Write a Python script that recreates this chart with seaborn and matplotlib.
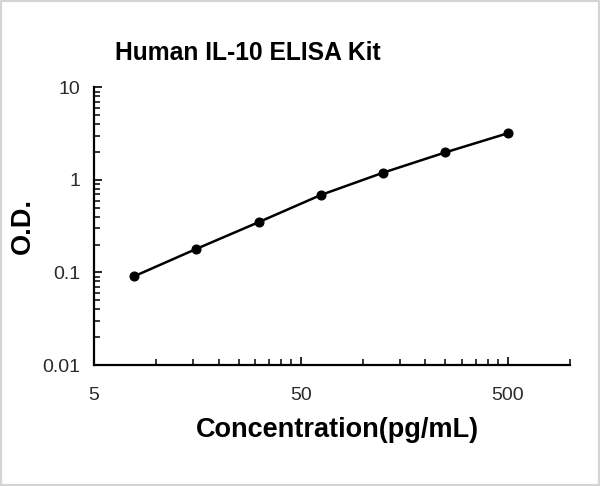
import matplotlib
matplotlib.use("Agg")
import matplotlib.pyplot as plt
import matplotlib.ticker as mticker
from matplotlib.patches import Rectangle
import seaborn as sns
import pandas as pd

# Data
concentration = [7.8125, 15.625, 31.25, 62.5, 125, 250, 500]
od = [0.091, 0.180, 0.350, 0.689, 1.20, 1.99, 3.20]
x_major = [5, 50, 500]
x_major_labels = ["5", "50", "500"]
y_major = [0.01, 0.1, 1, 10]
y_major_labels = ["0.01", "0.1", "1", "10"]

title = "Human IL-10 ELISA Kit"
xlabel = "Concentration(pg/mL)"
ylabel = "O.D."

sns.set_theme(style="white")
plt.rcParams['font.family'] = ['Liberation Sans', 'DejaVu Sans']

df = pd.DataFrame({"conc": concentration, "od": od})

fig = plt.figure(figsize=(6.0, 4.86), dpi=100)
ax = fig.add_axes([94/600, (486-365)/486, (570-94)/600, (365-87.5)/486])

sns.lineplot(data=df, x="conc", y="od", ax=ax, color="black", linewidth=1.8,
             marker="o", markersize=6.5, markeredgecolor="black",
             markerfacecolor="black")

ax.set_xscale("log")
ax.set_yscale("log")
ax.set_xlim(5, 1000)
ax.set_ylim(0.01, 10)

ax.xaxis.set_major_locator(mticker.FixedLocator(x_major))
ax.xaxis.set_major_formatter(mticker.FixedFormatter(x_major_labels))
minor_x = [5 * k for k in range(2, 10)] + [50 * k for k in range(2, 10)] + [1000]
ax.xaxis.set_minor_locator(mticker.FixedLocator(minor_x))
ax.xaxis.set_minor_formatter(mticker.NullFormatter())

ax.yaxis.set_major_locator(mticker.FixedLocator(y_major))
ax.yaxis.set_major_formatter(mticker.FixedFormatter(y_major_labels))
ax.yaxis.set_minor_locator(mticker.LogLocator(base=10, subs=range(2, 10)))
ax.yaxis.set_minor_formatter(mticker.NullFormatter())

for s in ["top", "right"]:
    ax.spines[s].set_visible(False)
for s in ["left", "bottom"]:
    ax.spines[s].set_color("black")
    ax.spines[s].set_linewidth(1.6)

ax.tick_params(axis="both", which="both", bottom=True, left=True,
               top=False, right=False)
ax.tick_params(axis="both", which="major", direction="in", length=5.5, width=1.2,
               color="black", labelsize=14, labelcolor="#2a2a2a")
ax.tick_params(axis="both", which="minor", direction="in", length=4.5, width=1.1,
               color="black")
ax.tick_params(axis="x", which="major", pad=16)
ax.tick_params(axis="y", which="major", pad=10)

ax.set_xlabel("")
ax.set_ylabel("")

fig.text(248/600, 1 - 53/486, title, ha="center", va="center",
         fontsize=17.7, fontweight="bold", color="black")
fig.text(337/600, 1 - 430/486, xlabel, ha="center", va="center",
         fontsize=19.5, fontweight="bold", color="black")
fig.text(23/600, 1 - 226/486, ylabel, ha="center", va="center", rotation=90,
         fontsize=19.5, fontweight="bold", color="black")

fig.patches.append(Rectangle((0, 0), 1, 1, transform=fig.transFigure,
                             fill=False, edgecolor="#d4d4d4", linewidth=3,
                             zorder=10))

fig.savefig("out.png", dpi=100)
